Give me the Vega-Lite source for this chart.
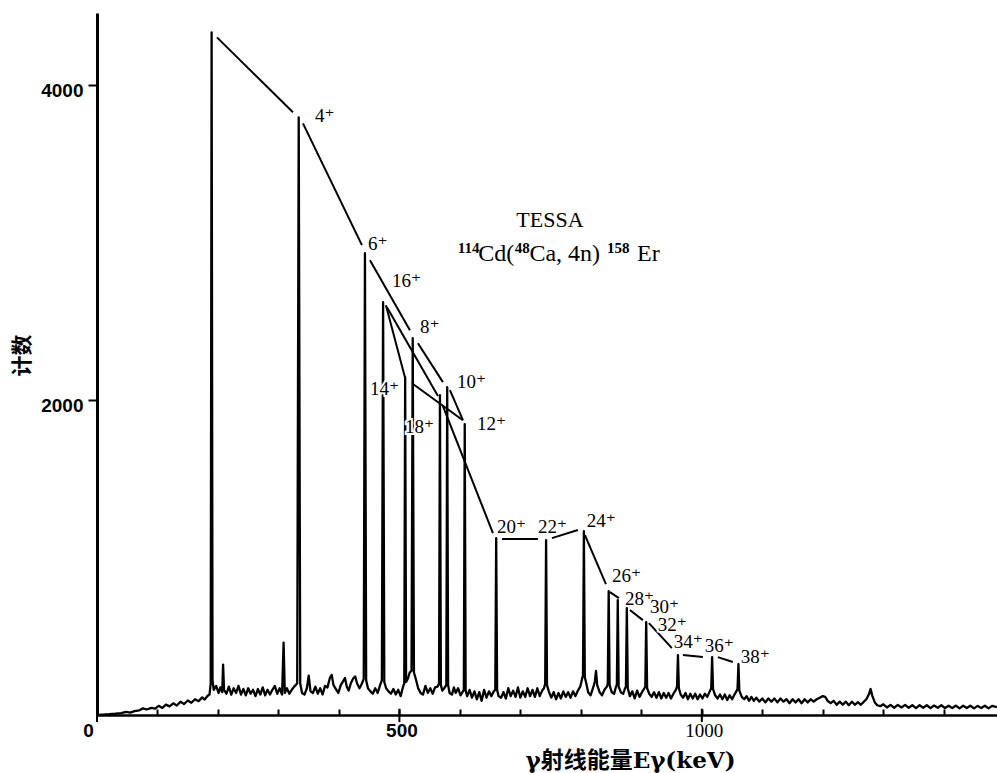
{
  "$schema": "https://vega.github.io/schema/vega-lite/v6.json",
  "width": 900,
  "height": 702,
  "autosize": "none",
  "padding": {"left": 97, "top": 13, "right": 0, "bottom": 58},
  "background": "white",
  "config": {
    "view": {"stroke": null},
    "axis": {"grid": false, "domainColor": "black", "tickColor": "black", "labelColor": "black", "titleColor": "black"}
  },
  "datasets": {
    "spectrum": [
      {"e":0,"c":0},{"e":10,"c":3},{"e":20,"c":5},{"e":30,"c":8},{"e":40,"c":12},{"e":48,"c":20},{"e":55,"c":15},{"e":62,"c":25},{"e":70,"c":30},{"e":76,"c":42},{"e":82,"c":35},{"e":90,"c":45},{"e":96,"c":40},{"e":102,"c":58},{"e":108,"c":45},{"e":114,"c":66},{"e":120,"c":55},{"e":126,"c":74},{"e":132,"c":60},{"e":138,"c":84},{"e":144,"c":70},{"e":150,"c":92},{"e":156,"c":78},{"e":162,"c":100},{"e":168,"c":88},{"e":174,"c":112},{"e":178,"c":98},{"e":183,"c":122},{"e":186,"c":130},
      {"e":188,"c":200},{"e":189.5,"c":4337},{"e":191,"c":220},
      {"e":193,"c":160},{"e":197,"c":185},{"e":201,"c":140},{"e":204,"c":175},{"e":207,"c":145},{"e":208.5,"c":320},{"e":210,"c":160},{"e":214,"c":135},{"e":218,"c":180},{"e":222,"c":130},{"e":226,"c":170},{"e":230,"c":140},{"e":234,"c":185},{"e":238,"c":130},{"e":242,"c":165},{"e":246,"c":125},{"e":250,"c":170},{"e":254,"c":135},{"e":258,"c":160},{"e":262,"c":120},{"e":266,"c":165},{"e":270,"c":130},{"e":274,"c":175},{"e":278,"c":125},{"e":282,"c":160},{"e":286,"c":130},{"e":290,"c":160},{"e":294,"c":185},{"e":298,"c":135},{"e":302,"c":170},{"e":306,"c":130},{"e":308.5,"c":460},{"e":310.5,"c":140},{"e":314,"c":170},{"e":318,"c":135},{"e":322,"c":160},{"e":326,"c":180},
      {"e":331,"c":200},{"e":333.5,"c":3797},{"e":336,"c":200},
      {"e":339,"c":140},{"e":343,"c":130},{"e":347,"c":170},{"e":350,"c":250},{"e":353,"c":150},{"e":357,"c":140},{"e":361,"c":180},{"e":365,"c":135},{"e":369,"c":170},{"e":373,"c":130},{"e":377,"c":185},{"e":381,"c":175},{"e":385,"c":235},{"e":388,"c":255},{"e":391,"c":190},{"e":395,"c":165},{"e":399,"c":140},{"e":403,"c":190},{"e":407,"c":215},{"e":410,"c":235},{"e":413,"c":180},{"e":416,"c":155},{"e":420,"c":205},{"e":424,"c":235},{"e":427,"c":245},{"e":430,"c":200},{"e":434,"c":170},{"e":438,"c":200},
      {"e":441,"c":230},{"e":443,"c":2934},{"e":445,"c":220},
      {"e":448,"c":170},{"e":452,"c":150},{"e":456,"c":135},{"e":460,"c":170},{"e":464,"c":140},{"e":468,"c":190},
      {"e":471,"c":220},{"e":473,"c":2623},{"e":475,"c":210},
      {"e":478,"c":170},{"e":482,"c":150},{"e":486,"c":135},{"e":490,"c":165},{"e":494,"c":130},{"e":498,"c":160},{"e":502,"c":120},{"e":506,"c":180},
      {"e":508,"c":200},{"e":509.5,"c":2146},{"e":511,"c":210},
      {"e":514,"c":230},{"e":517,"c":270},
      {"e":520,"c":280},{"e":522,"c":2394},{"e":524,"c":270},
      {"e":527,"c":230},{"e":531,"c":170},{"e":535,"c":140},{"e":539,"c":130},{"e":543,"c":185},{"e":547,"c":140},{"e":551,"c":170},{"e":555,"c":135},{"e":559,"c":175},{"e":563,"c":180},
      {"e":565.5,"c":200},{"e":567,"c":2032},{"e":568.5,"c":190},
      {"e":571,"c":155},{"e":574,"c":170},
      {"e":577.5,"c":190},{"e":579,"c":2083},{"e":580.5,"c":190},
      {"e":583,"c":140},{"e":587,"c":130},{"e":590,"c":175},{"e":593,"c":140},{"e":597,"c":170},{"e":601,"c":125},{"e":605,"c":150},
      {"e":606.5,"c":160},{"e":608,"c":1848},{"e":609.5,"c":155},
      {"e":612,"c":120},{"e":616,"c":160},{"e":620,"c":110},{"e":624,"c":150},{"e":628,"c":100},{"e":632,"c":145},{"e":636,"c":90},{"e":640,"c":160},{"e":644,"c":110},{"e":648,"c":150},{"e":652,"c":120},{"e":656,"c":150},
      {"e":658.5,"c":160},{"e":660,"c":1124},{"e":661.5,"c":160},
      {"e":664,"c":120},{"e":668,"c":110},{"e":672,"c":145},{"e":676,"c":105},{"e":680,"c":170},{"e":684,"c":120},{"e":688,"c":155},{"e":692,"c":115},{"e":696,"c":175},{"e":700,"c":110},{"e":704,"c":150},{"e":708,"c":115},{"e":712,"c":170},{"e":716,"c":120},{"e":720,"c":160},{"e":724,"c":115},{"e":728,"c":170},{"e":732,"c":120},{"e":736,"c":155},{"e":739,"c":170},
      {"e":741,"c":200},{"e":742.5,"c":1111},{"e":744,"c":190},
      {"e":747,"c":150},{"e":751,"c":110},{"e":755,"c":145},{"e":759,"c":100},{"e":763,"c":140},{"e":767,"c":105},{"e":771,"c":150},{"e":775,"c":115},{"e":779,"c":145},{"e":783,"c":110},{"e":787,"c":150},{"e":791,"c":120},{"e":795,"c":155},{"e":799,"c":180},{"e":802,"c":230},
      {"e":803.5,"c":250},{"e":805,"c":1168},{"e":806.5,"c":240},
      {"e":809,"c":200},{"e":812,"c":145},{"e":816,"c":125},{"e":820,"c":170},{"e":823,"c":210},{"e":825,"c":280},{"e":827,"c":190},{"e":831,"c":145},{"e":835,"c":125},{"e":839,"c":160},{"e":843,"c":180},
      {"e":844.5,"c":200},{"e":846,"c":787},{"e":847.5,"c":190},
      {"e":851,"c":145},{"e":855,"c":135},{"e":858,"c":180},
      {"e":859.5,"c":190},{"e":861,"c":730},{"e":862.5,"c":180},
      {"e":866,"c":145},{"e":870,"c":135},{"e":873,"c":170},
      {"e":874.5,"c":180},{"e":876,"c":679},{"e":877.5,"c":170},
      {"e":881,"c":120},{"e":885,"c":150},{"e":889,"c":105},{"e":893,"c":155},{"e":897,"c":115},{"e":901,"c":145},{"e":905,"c":170},
      {"e":906.5,"c":180},{"e":908,"c":590},{"e":909.5,"c":170},
      {"e":913,"c":135},{"e":917,"c":115},{"e":921,"c":145},{"e":925,"c":110},{"e":929,"c":145},{"e":933,"c":105},{"e":937,"c":140},{"e":941,"c":110},{"e":945,"c":140},{"e":949,"c":105},{"e":953,"c":135},{"e":957,"c":160},
      {"e":959,"c":180},{"e":960.5,"c":381},{"e":962,"c":170},
      {"e":965,"c":130},{"e":969,"c":110},{"e":973,"c":140},{"e":977,"c":100},{"e":981,"c":135},{"e":985,"c":105},{"e":989,"c":135},{"e":993,"c":100},{"e":997,"c":130},{"e":1001,"c":105},{"e":1005,"c":135},{"e":1009,"c":115},{"e":1013,"c":150},
      {"e":1015.5,"c":170},{"e":1017,"c":368},{"e":1018.5,"c":165},
      {"e":1022,"c":125},{"e":1026,"c":105},{"e":1030,"c":130},{"e":1034,"c":100},{"e":1038,"c":130},{"e":1042,"c":95},{"e":1046,"c":125},{"e":1050,"c":100},{"e":1054,"c":130},{"e":1057,"c":150},
      {"e":1059,"c":165},{"e":1060.5,"c":324},{"e":1062,"c":155},
      {"e":1066,"c":115},{"e":1070,"c":100},{"e":1074,"c":120},{"e":1078,"c":90},{"e":1082,"c":115},{"e":1086,"c":90},{"e":1090,"c":110},{"e":1095,"c":85},{"e":1100,"c":105},{"e":1105,"c":80},{"e":1110,"c":105},{"e":1115,"c":85},{"e":1120,"c":105},{"e":1125,"c":80},{"e":1130,"c":105},{"e":1135,"c":85},{"e":1140,"c":100},{"e":1145,"c":75},{"e":1150,"c":100},{"e":1155,"c":80},{"e":1160,"c":100},{"e":1165,"c":75},{"e":1170,"c":100},{"e":1175,"c":80},{"e":1180,"c":100},{"e":1185,"c":85},{"e":1190,"c":100},{"e":1195,"c":110},{"e":1200,"c":120},{"e":1204,"c":115},{"e":1208,"c":90},{"e":1213,"c":75},{"e":1218,"c":90},{"e":1223,"c":65},{"e":1228,"c":85},{"e":1233,"c":65},{"e":1238,"c":85},{"e":1243,"c":62},{"e":1248,"c":85},{"e":1253,"c":65},{"e":1258,"c":82},{"e":1263,"c":65},{"e":1268,"c":85},{"e":1272,"c":100},{"e":1276,"c":130},{"e":1279,"c":165},{"e":1282,"c":120},{"e":1286,"c":80},{"e":1290,"c":62},{"e":1295,"c":56},{"e":1300,"c":68},{"e":1306,"c":48},{"e":1312,"c":64},{"e":1318,"c":46},{"e":1324,"c":64},{"e":1330,"c":48},{"e":1336,"c":64},{"e":1342,"c":46},{"e":1348,"c":62},{"e":1354,"c":44},{"e":1360,"c":62},{"e":1366,"c":46},{"e":1372,"c":62},{"e":1378,"c":44},{"e":1384,"c":60},{"e":1390,"c":46},{"e":1396,"c":62},{"e":1402,"c":44},{"e":1408,"c":59},{"e":1414,"c":44},{"e":1420,"c":60},{"e":1426,"c":42},{"e":1432,"c":59},{"e":1438,"c":44},{"e":1444,"c":59},{"e":1450,"c":42},{"e":1456,"c":58},{"e":1462,"c":44},{"e":1468,"c":59},{"e":1474,"c":42},{"e":1480,"c":58},{"e":1488,"c":50}
    ],
    "links": [
      {"e1":198.4,"c1":4305,"e2":324.0,"c2":3829},
      {"e1":340.5,"c1":3759,"e2":438.0,"c2":2985},
      {"e1":451.3,"c1":2889,"e2":517.4,"c2":2445},
      {"e1":530.6,"c1":2362,"e2":571.9,"c2":2115},
      {"e1":583.5,"c1":2064,"e2":605.0,"c2":1873},
      {"e1":605.0,"c1":1873,"e2":520.7,"c2":2108},
      {"e1":477.7,"c1":2604,"e2":509.1,"c2":2146},
      {"e1":479.4,"c1":2591,"e2":563.7,"c2":2026},
      {"e1":571.9,"c1":1962,"e2":654.6,"c2":1156},
      {"e1":669.5,"c1":1118,"e2":729.0,"c2":1118},
      {"e1":752.1,"c1":1124,"e2":795.1,"c2":1175},
      {"e1":806.7,"c1":1143,"e2":841.4,"c2":832},
      {"e1":848.0,"c1":781,"e2":862.9,"c2":743},
      {"e1":881.0,"c1":667,"e2":902.5,"c2":603},
      {"e1":912.5,"c1":584,"e2":950.5,"c2":425},
      {"e1":968.7,"c1":381,"e2":1001.7,"c2":368},
      {"e1":1026.5,"c1":368,"e2":1051.3,"c2":337}
    ],
    "majorTicks": [{"e":0},{"e":500},{"e":1000}],
    "labels": [
      {"spin":"4⁺","e":360.4,"c":3766},
      {"spin":"6⁺","e":447.9,"c":2953},
      {"spin":"16⁺","e":487.6,"c":2718},
      {"spin":"8⁺","e":533.9,"c":2426},
      {"spin":"10⁺","e":595.1,"c":2076},
      {"spin":"14⁺","e":451.2,"c":2032},
      {"spin":"18⁺","e":509.2,"c":1791},
      {"spin":"12⁺","e":628.1,"c":1810},
      {"spin":"20⁺","e":661.2,"c":1156},
      {"spin":"22⁺","e":729.0,"c":1156},
      {"spin":"24⁺","e":809.7,"c":1194},
      {"spin":"26⁺","e":851.3,"c":845},
      {"spin":"28⁺","e":872.8,"c":699},
      {"spin":"30⁺","e":914.1,"c":645},
      {"spin":"32⁺","e":927.3,"c":535},
      {"spin":"34⁺","e":953.7,"c":425},
      {"spin":"36⁺","e":1005.0,"c":400},
      {"spin":"38⁺","e":1064.5,"c":330}
    ],
    "titleLines": [
      {"text":"TESSA","e":748.8,"c":3099}
    ],
    "reactionMain": [
      {"text":"Cd(","e":630.5,"c":2883},
      {"text":"Ca, 4n)","e":715.0,"c":2883},
      {"text":"Er","e":893.0,"c":2883}
    ],
    "reactionSup": [
      {"text":"114","e":596.5,"c":2934},
      {"text":"48","e":690.5,"c":2934},
      {"text":"158","e":843.0,"c":2934}
    ]
  },
  "layer": [
    {
      "data": {"name": "spectrum"},
      "mark": {"type": "line", "color": "black", "strokeWidth": 2.3, "strokeJoin": "round", "clip": true},
      "encoding": {
        "x": {
          "field": "e", "type": "quantitative",
          "scale": {"domain": [0, 1488], "nice": false, "zero": false},
          "axis": {
            "title": "γ射线能量Eγ(keV)",
            "titleFont": "DejaVu Serif, Noto Sans CJK SC",
            "titleFontSize": 23,
            "titleFontWeight": "bold",
            "titleX": 533,
            "titleY": 45,
            "titleAlign": "center",
            "titleBaseline": "middle",
            "values": [0,50,100,150,200,250,300,350,400,450,500,550,600,650,700,750,800,850,900,950,1000,1050,1100,1150,1200,1250,1300,1350,1400,1450],
            "format": "d",
            "labelExpr": "datum.value % 500 === 0 ? datum.label : ''",
            "labelOverlap": false,
            "labelFlush": false,
            "labelFontSize": 19,
            "labelFont": {"condition": {"test": "datum.value === 1000", "value": "Liberation Serif"}, "value": "Liberation Sans"},
            "labelFontWeight": {"condition": {"test": "datum.value === 1000", "value": "normal"}, "value": "bold"},
            "labelOffset": {"condition": {"test": "datum.value === 0", "value": -9}, "value": 2},
            "labelPadding": 12,
            "labelBaseline": "top",
            "tickSize": -6,
            "tickWidth": 2,
            "domainWidth": 2.5
          }
        },
        "y": {
          "field": "c", "type": "quantitative",
          "scale": {"domain": [0, 4460], "nice": false, "zero": true},
          "axis": {
            "title": "计数",
            "titleFont": "Noto Sans CJK SC",
            "titleFontSize": 21,
            "titleFontWeight": "bold",
            "titleAngle": -90,
            "titleX": -75,
            "titleY": 342,
            "titleAlign": "center",
            "titleBaseline": "middle",
            "values": [2000, 4000],
            "format": "d",
            "labelFont": "Liberation Sans",
            "labelFontWeight": "bold",
            "labelFontSize": 19,
            "labelOffset": 5,
            "labelPadding": 5,
            "tickSize": 9,
            "tickWidth": 2,
            "domainWidth": 3
          }
        }
      }
    },
    {
      "data": {"name": "majorTicks"},
      "mark": {"type": "rule", "color": "black", "strokeWidth": 2, "clip": false},
      "encoding": {
        "x": {"field": "e", "type": "quantitative", "title": "γ射线能量Eγ(keV)"},
        "y": {"datum": -45, "type": "quantitative", "title": "计数"},
        "y2": {"datum": 40}
      }
    },
    {
      "data": {"name": "links"},
      "mark": {"type": "rule", "color": "black", "strokeWidth": 2},
      "encoding": {
        "x": {"field": "e1", "type": "quantitative", "title": "γ射线能量Eγ(keV)"},
        "y": {"field": "c1", "type": "quantitative", "title": "计数"},
        "x2": {"field": "e2"},
        "y2": {"field": "c2"}
      }
    },
    {
      "data": {"name": "labels"},
      "mark": {"type": "text", "align": "left", "baseline": "alphabetic", "font": "Liberation Serif, DejaVu Serif", "fontSize": 19, "stroke": "white", "strokeWidth": 4, "fill": "white"},
      "encoding": {
        "x": {"field": "e", "type": "quantitative", "title": "γ射线能量Eγ(keV)"},
        "y": {"field": "c", "type": "quantitative", "title": "计数"},
        "text": {"field": "spin"}
      }
    },
    {
      "data": {"name": "labels"},
      "mark": {"type": "text", "align": "left", "baseline": "alphabetic", "font": "Liberation Serif, DejaVu Serif", "fontSize": 19, "color": "black"},
      "encoding": {
        "x": {"field": "e", "type": "quantitative", "title": "γ射线能量Eγ(keV)"},
        "y": {"field": "c", "type": "quantitative", "title": "计数"},
        "text": {"field": "spin"}
      }
    },
    {
      "data": {"name": "titleLines"},
      "mark": {"type": "text", "align": "center", "baseline": "alphabetic", "font": "Liberation Serif", "fontSize": 22, "color": "black"},
      "encoding": {
        "x": {"field": "e", "type": "quantitative", "title": "γ射线能量Eγ(keV)"},
        "y": {"field": "c", "type": "quantitative", "title": "计数"},
        "text": {"field": "text"}
      }
    },
    {
      "data": {"name": "reactionMain"},
      "mark": {"type": "text", "align": "left", "baseline": "alphabetic", "font": "Liberation Serif", "fontSize": 24, "color": "black"},
      "encoding": {
        "x": {"field": "e", "type": "quantitative", "title": "γ射线能量Eγ(keV)"},
        "y": {"field": "c", "type": "quantitative", "title": "计数"},
        "text": {"field": "text"}
      }
    },
    {
      "data": {"name": "reactionSup"},
      "mark": {"type": "text", "align": "left", "baseline": "alphabetic", "font": "Liberation Serif", "fontSize": 15, "fontWeight": "bold", "color": "black"},
      "encoding": {
        "x": {"field": "e", "type": "quantitative", "title": "γ射线能量Eγ(keV)"},
        "y": {"field": "c", "type": "quantitative", "title": "计数"},
        "text": {"field": "text"}
      }
    }
  ]
}
